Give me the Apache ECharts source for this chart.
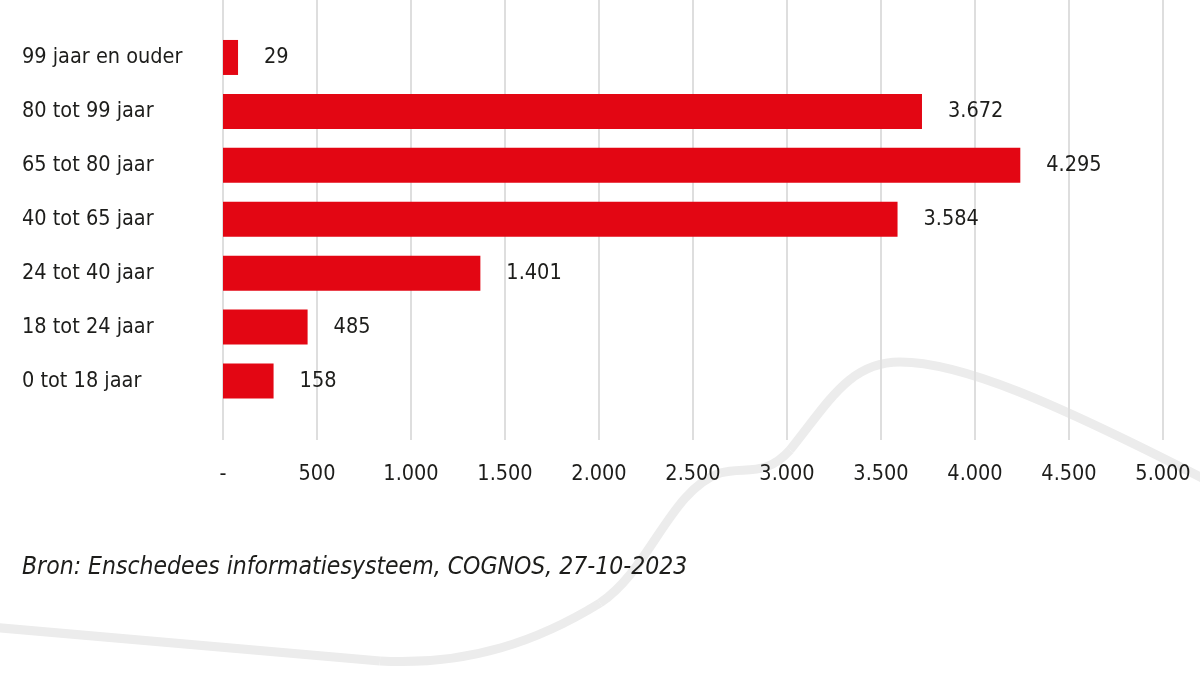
<!DOCTYPE html>
<html>
<head>
<meta charset="utf-8">
<script src="https://cdn.jsdelivr.net/npm/echarts@6/dist/echarts.min.js"></script>
<style>
html,body{margin:0;padding:0;background:#fff;}
#chart{width:1200px;height:675px;}
</style>
</head>
<body>
<div id="chart"></div>
<script>
// Categories, top to bottom as shown
const categories = ['99 jaar en ouder', '80 tot 99 jaar', '65 tot 80 jaar', '40 tot 65 jaar', '24 tot 40 jaar', '18 tot 24 jaar', '0 tot 18 jaar'];
// Bar lengths as drawn in the picture
const barValues = [80, 3718, 4241, 3588, 1369, 450, 269];
// Value labels as printed next to the bars
const valueLabels = ['29', '3.672', '4.295', '3.584', '1.401', '485', '158'];
// X axis tick labels (0..5000 step 500)
const tickLabels = ['-', '500', '1.000', '1.500', '2.000', '2.500', '3.000', '3.500', '4.000', '4.500', '5.000'];
const sourceText = 'Bron: Enschedees informatiesysteem, COGNOS, 27-10-2023';

const FONT = '"DejaVu Sans Condensed", "Liberation Sans Narrow", "Roboto", sans-serif';
const FS = 21.5;
const TXT = '#1d1d1b';
const RED = '#e30613';
const CURVE = {fill: null, stroke: '#ececec', lineWidth: 9};

function bez(a, b, c, d) {
  return {type: 'bezierCurve', z: -10, silent: true,
    shape: {x1: a[0], y1: a[1], cpx1: b[0], cpy1: b[1], cpx2: c[0], cpy2: c[1], x2: d[0], y2: d[1]},
    style: CURVE};
}

const chart = echarts.init(document.getElementById('chart'), null, {renderer: 'canvas'});
chart.setOption({
  animation: false,
  backgroundColor: '#ffffff',
  textStyle: {fontFamily: FONT},
  title: {
    text: sourceText,
    left: 17,
    top: 550,
    textStyle: {fontFamily: FONT, fontStyle: 'italic', fontWeight: 'normal', fontSize: 24.5, color: TXT}
  },
  graphic: [
    {type: 'line', z: -10, silent: true, shape: {x1: -10, y1: 627, x2: 380, y2: 661}, style: CURVE},
    bez([380, 661], [470, 666], [540, 640], [600, 603]),
    bez([600, 603], [650, 570], [670, 490], [720, 473]),
    bez([720, 473], [745, 466], [765, 478], [790, 450]),
    bez([790, 450], [830, 400], [850, 362], [900, 362]),
    bez([900, 362], [960, 362], [1050, 400], [1210, 482])
  ],
  grid: [
    {left: 223, right: 37, top: 0, height: 440},
    {left: 223, right: 37, top: 30.5, height: 377.5}
  ],
  xAxis: [
    {
      gridIndex: 0, type: 'value', min: 0, max: 5000, interval: 500,
      axisLine: {show: false}, axisTick: {show: false},
      splitLine: {show: true, lineStyle: {color: '#dedede', width: 2}},
      axisLabel: {
        margin: 23, fontSize: FS, color: TXT, fontFamily: FONT,
        formatter: function (v) { return tickLabels[Math.round(v / 500)]; }
      }
    },
    {gridIndex: 1, type: 'value', min: 0, max: 5000, show: false}
  ],
  yAxis: [
    {gridIndex: 0, type: 'value', min: 0, max: 1, show: false},
    {
      gridIndex: 1, type: 'category', data: categories, inverse: true,
      axisLine: {show: false}, axisTick: {show: false},
      axisLabel: {align: 'left', margin: 201, fontSize: FS, color: TXT, fontFamily: FONT}
    }
  ],
  series: [{
    type: 'bar',
    xAxisIndex: 1,
    yAxisIndex: 1,
    data: barValues,
    barWidth: 35,
    itemStyle: {color: RED},
    label: {
      show: true, position: 'right', distance: 26,
      fontSize: FS, color: TXT, fontFamily: FONT,
      formatter: function (p) { return valueLabels[p.dataIndex]; }
    }
  }]
});
</script>
</body>
</html>
